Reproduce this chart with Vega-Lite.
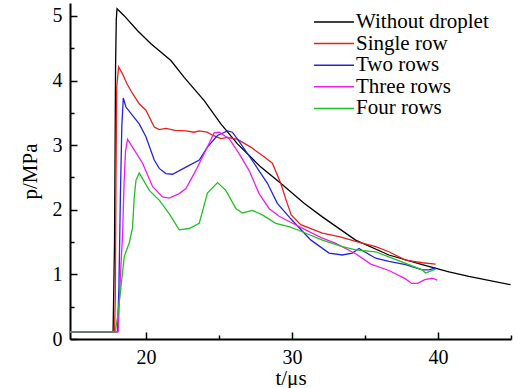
{
  "$schema": "https://vega.github.io/schema/vega-lite/v6.json",
  "autosize": "none",
  "width": 441,
  "height": 336,
  "padding": {"left": 70, "top": 3, "right": 5, "bottom": 49},
  "background": "white",
  "config": {
    "view": {"stroke": null},
    "font": "Liberation Serif",
    "axis": {"domainColor": "black", "domainWidth": 2, "labelColor": "black", "titleColor": "black", "labelFont": "Liberation Serif", "titleFont": "Liberation Serif", "labelFontSize": 20, "titleFontSize": 21, "titleFontWeight": "normal"},
    "legend": {"labelFont": "Liberation Serif", "labelFontSize": 21, "labelColor": "black"}
  },
  "data": {"values": [
    {"s":"Without droplet","t":14.8,"p":0.11},{"s":"Without droplet","t":17.75,"p":0.11},{"s":"Without droplet","t":17.85,"p":1.5},{"s":"Without droplet","t":17.92,"p":4.2},{"s":"Without droplet","t":17.97,"p":4.95},{"s":"Without droplet","t":18.02,"p":5.11},{"s":"Without droplet","t":18.52,"p":5.0},{"s":"Without droplet","t":19.43,"p":4.77},{"s":"Without droplet","t":20.34,"p":4.57},{"s":"Without droplet","t":21.71,"p":4.31},{"s":"Without droplet","t":22.62,"p":4.05},{"s":"Without droplet","t":23.99,"p":3.69},{"s":"Without droplet","t":25.13,"p":3.33},{"s":"Without droplet","t":26.27,"p":3.02},{"s":"Without droplet","t":27.87,"p":2.66},{"s":"Without droplet","t":29.23,"p":2.41},{"s":"Without droplet","t":30.83,"p":2.1},{"s":"Without droplet","t":32.08,"p":1.89},{"s":"Without droplet","t":34.36,"p":1.53},{"s":"Without droplet","t":36.64,"p":1.3},{"s":"Without droplet","t":38.92,"p":1.15},{"s":"Without droplet","t":40.75,"p":1.04},{"s":"Without droplet","t":42.11,"p":0.97},{"s":"Without droplet","t":44.97,"p":0.84},

    {"s":"Single row","t":14.8,"p":0.11},{"s":"Single row","t":17.85,"p":0.11},{"s":"Single row","t":17.9,"p":0.6},{"s":"Single row","t":17.95,"p":2.5},{"s":"Single row","t":18.0,"p":3.9},{"s":"Single row","t":18.13,"p":4.21},{"s":"Single row","t":18.4,"p":4.1},{"s":"Single row","t":18.7,"p":3.95},{"s":"Single row","t":19.08,"p":3.8},{"s":"Single row","t":19.54,"p":3.64},{"s":"Single row","t":20.0,"p":3.54},{"s":"Single row","t":20.57,"p":3.28},{"s":"Single row","t":20.91,"p":3.24},{"s":"Single row","t":21.37,"p":3.26},{"s":"Single row","t":22.0,"p":3.23},{"s":"Single row","t":22.74,"p":3.22},{"s":"Single row","t":23.3,"p":3.2},{"s":"Single row","t":23.65,"p":3.22},{"s":"Single row","t":24.19,"p":3.2},{"s":"Single row","t":24.6,"p":3.15},{"s":"Single row","t":25.13,"p":3.1},{"s":"Single row","t":25.58,"p":3.12},{"s":"Single row","t":26.27,"p":3.09},{"s":"Single row","t":27.18,"p":2.97},{"s":"Single row","t":28.09,"p":2.82},{"s":"Single row","t":28.66,"p":2.72},{"s":"Single row","t":29.23,"p":2.41},{"s":"Single row","t":29.6,"p":2.15},{"s":"Single row","t":29.95,"p":1.92},{"s":"Single row","t":30.6,"p":1.77},{"s":"Single row","t":32.08,"p":1.64},{"s":"Single row","t":33.3,"p":1.58},{"s":"Single row","t":34.36,"p":1.51},{"s":"Single row","t":35.73,"p":1.43},{"s":"Single row","t":36.64,"p":1.35},{"s":"Single row","t":37.78,"p":1.22},{"s":"Single row","t":38.92,"p":1.18},{"s":"Single row","t":39.84,"p":1.16},

    {"s":"Two rows","t":14.8,"p":0.11},{"s":"Two rows","t":18.05,"p":0.11},{"s":"Two rows","t":18.15,"p":0.8},{"s":"Two rows","t":18.25,"p":2.2},{"s":"Two rows","t":18.35,"p":3.3},{"s":"Two rows","t":18.45,"p":3.73},{"s":"Two rows","t":18.63,"p":3.59},{"s":"Two rows","t":19.08,"p":3.46},{"s":"Two rows","t":19.54,"p":3.33},{"s":"Two rows","t":20.0,"p":3.13},{"s":"Two rows","t":20.57,"p":2.77},{"s":"Two rows","t":20.91,"p":2.64},{"s":"Two rows","t":21.37,"p":2.56},{"s":"Two rows","t":21.82,"p":2.55},{"s":"Two rows","t":22.74,"p":2.66},{"s":"Two rows","t":23.65,"p":2.77},{"s":"Two rows","t":24.21,"p":2.97},{"s":"Two rows","t":24.9,"p":3.15},{"s":"Two rows","t":25.58,"p":3.22},{"s":"Two rows","t":25.92,"p":3.2},{"s":"Two rows","t":26.5,"p":3.02},{"s":"Two rows","t":27.41,"p":2.72},{"s":"Two rows","t":28.32,"p":2.41},{"s":"Two rows","t":29.0,"p":2.1},{"s":"Two rows","t":29.92,"p":1.86},{"s":"Two rows","t":30.83,"p":1.64},{"s":"Two rows","t":31.3,"p":1.53},{"s":"Two rows","t":32.54,"p":1.33},{"s":"Two rows","t":33.45,"p":1.3},{"s":"Two rows","t":34.14,"p":1.33},{"s":"Two rows","t":34.59,"p":1.4},{"s":"Two rows","t":35.73,"p":1.25},{"s":"Two rows","t":36.64,"p":1.2},{"s":"Two rows","t":37.78,"p":1.15},{"s":"Two rows","t":38.92,"p":1.07},{"s":"Two rows","t":39.38,"p":1.07},{"s":"Two rows","t":39.84,"p":1.1},

    {"s":"Three rows","t":14.8,"p":0.11},{"s":"Three rows","t":18.1,"p":0.11},{"s":"Three rows","t":18.2,"p":0.7},{"s":"Three rows","t":18.3,"p":1.2},{"s":"Three rows","t":18.4,"p":1.6},{"s":"Three rows","t":18.5,"p":2.4},{"s":"Three rows","t":18.6,"p":2.9},{"s":"Three rows","t":18.74,"p":3.09},{"s":"Three rows","t":19.08,"p":2.97},{"s":"Three rows","t":19.77,"p":2.72},{"s":"Three rows","t":20.45,"p":2.36},{"s":"Three rows","t":21.14,"p":2.2},{"s":"Three rows","t":21.59,"p":2.18},{"s":"Three rows","t":22.28,"p":2.25},{"s":"Three rows","t":22.74,"p":2.33},{"s":"Three rows","t":23.42,"p":2.61},{"s":"Three rows","t":24.1,"p":2.92},{"s":"Three rows","t":24.67,"p":3.19},{"s":"Three rows","t":25.01,"p":3.2},{"s":"Three rows","t":25.7,"p":3.1},{"s":"Three rows","t":26.38,"p":2.87},{"s":"Three rows","t":27.06,"p":2.61},{"s":"Three rows","t":27.75,"p":2.25},{"s":"Three rows","t":28.43,"p":2.02},{"s":"Three rows","t":29.12,"p":1.9},{"s":"Three rows","t":30.14,"p":1.78},{"s":"Three rows","t":31.0,"p":1.68},{"s":"Three rows","t":32.0,"p":1.57},{"s":"Three rows","t":33.0,"p":1.48},{"s":"Three rows","t":34.36,"p":1.32},{"s":"Three rows","t":35.4,"p":1.16},{"s":"Three rows","t":36.64,"p":1.06},{"s":"Three rows","t":37.78,"p":0.93},{"s":"Three rows","t":38.2,"p":0.86},{"s":"Three rows","t":38.6,"p":0.86},{"s":"Three rows","t":39.1,"p":0.92},{"s":"Three rows","t":39.6,"p":0.94},{"s":"Three rows","t":39.95,"p":0.91},

    {"s":"Four rows","t":14.8,"p":0.11},{"s":"Four rows","t":17.9,"p":0.11},{"s":"Four rows","t":18.06,"p":0.35},{"s":"Four rows","t":18.29,"p":0.81},{"s":"Four rows","t":18.52,"p":1.28},{"s":"Four rows","t":18.86,"p":1.49},{"s":"Four rows","t":19.08,"p":1.72},{"s":"Four rows","t":19.2,"p":2.19},{"s":"Four rows","t":19.32,"p":2.46},{"s":"Four rows","t":19.54,"p":2.57},{"s":"Four rows","t":20.23,"p":2.3},{"s":"Four rows","t":20.91,"p":2.15},{"s":"Four rows","t":21.59,"p":1.94},{"s":"Four rows","t":22.28,"p":1.69},{"s":"Four rows","t":22.96,"p":1.71},{"s":"Four rows","t":23.65,"p":1.79},{"s":"Four rows","t":24.21,"p":2.26},{"s":"Four rows","t":24.9,"p":2.42},{"s":"Four rows","t":25.47,"p":2.3},{"s":"Four rows","t":26.16,"p":2.02},{"s":"Four rows","t":26.61,"p":1.95},{"s":"Four rows","t":27.29,"p":1.99},{"s":"Four rows","t":27.97,"p":1.92},{"s":"Four rows","t":28.89,"p":1.79},{"s":"Four rows","t":29.8,"p":1.74},{"s":"Four rows","t":30.71,"p":1.66},{"s":"Four rows","t":32.08,"p":1.53},{"s":"Four rows","t":33.45,"p":1.43},{"s":"Four rows","t":34.36,"p":1.38},{"s":"Four rows","t":35.73,"p":1.35},{"s":"Four rows","t":36.64,"p":1.27},{"s":"Four rows","t":37.78,"p":1.17},{"s":"Four rows","t":38.92,"p":1.07},{"s":"Four rows","t":39.15,"p":1.02},{"s":"Four rows","t":39.84,"p":1.08}
  ]},
  "mark": {"type": "line", "strokeWidth": 1.3, "clip": true},
  "encoding": {
    "x": {"field": "t", "type": "quantitative", "scale": {"domain": [14.8, 45], "nice": false, "zero": false},
      "axis": {"title": "t/μs", "values": [20, 25, 30, 35, 40, 45], "labelExpr": "datum.value % 10 === 0 ? datum.label : ''", "ticks": false, "labelPadding": 8, "titlePadding": 0, "labelFlush": false,
        "grid": true, "gridColor": "black", "gridOpacity": 1, "gridWidth": 1.5, "gridDash": {"condition": {"test": "datum.value % 10 === 0", "value": [0, 329, 7, 1000]}, "value": [0, 332, 4, 1000]}}},
    "y": {"field": "p", "type": "quantitative", "scale": {"domain": [0, 5.2], "nice": false},
      "axis": {"title": "p/MPa", "values": [0, 0.5, 1, 1.5, 2, 2.5, 3, 3.5, 4, 4.5, 5], "labelExpr": "datum.value % 1 === 0 ? format(datum.value, 'd') : ''", "ticks": false, "labelPadding": 8, "titlePadding": 12, "labelFlush": false,
        "grid": true, "gridColor": "black", "gridOpacity": 1, "gridWidth": 1.5, "gridDash": {"condition": {"test": "datum.value % 1 === 0", "value": [7, 1000]}, "value": [4, 1000]}}},
    "color": {"field": "s", "type": "nominal", "sort": null,
      "scale": {"domain": ["Without droplet", "Single row", "Two rows", "Three rows", "Four rows"], "range": ["#000000", "#e8201c", "#2424e0", "#f01cf0", "#20c020"]},
      "legend": {"title": null, "orient": "none", "legendX": 253, "legendY": 8, "symbolType": "M-2,0L2,0", "symbolSize": 400, "symbolStrokeWidth": 1.5, "labelOffset": 11, "rowPadding": 0.6}}
  }
}
